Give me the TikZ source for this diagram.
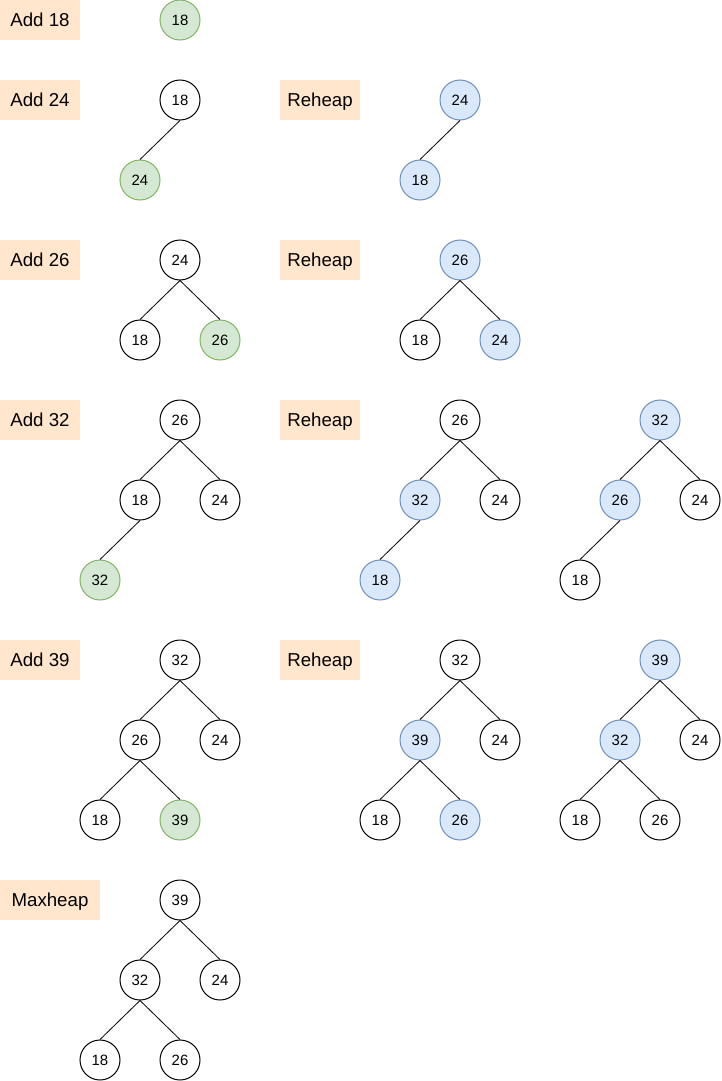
\documentclass[tikz,border=0pt]{standalone}
\usepackage{fontspec}
\setmainfont{Liberation Sans}
\usepackage{tikz}
\definecolor{addfill}{HTML}{D5E8D4}
\definecolor{adddraw}{HTML}{82B366}
\definecolor{swapfill}{HTML}{DAE8FC}
\definecolor{swapdraw}{HTML}{6C8EBF}
\definecolor{tagfill}{HTML}{FFE6CC}
\tikzset{
  key/.style={circle, draw=black, fill=white, line width=0.75pt, minimum size=30pt, inner sep=0pt, text height=8pt, text depth=0pt, font=\fontsize{11.2}{13}\selectfont},
  added/.style={key, draw=adddraw, fill=addfill},
  swapped/.style={key, draw=swapdraw, fill=swapfill},
  tag/.style={rectangle, fill=tagfill, inner sep=0pt, minimum height=30pt, text height=10pt, text depth=0pt, font=\fontsize{14}{16}\selectfont},
  edge/.style={line width=0.6pt}
}
\begin{document}
\begin{tikzpicture}[x=0.75pt, y=-0.75pt]
			%%%%% START %%%%%
			\useasboundingbox (0, 0) rectangle (721, 1081);
			
			% step 1
			\node[tag, minimum width=60pt] (t1) at (40, 20) {Add 18};
			\node[added] (a18) at (180, 20) {18};
			
			% step 2
			\node[tag, minimum width=60pt] (t2) at (40, 100) {Add 24};
			\node[key] (b18) at (180, 100) {18};
			\node[added] (b24) at (140, 180) {24};
			\draw[edge] (b18.south) -- (b24.north);
			
			\node[tag, minimum width=60pt] (r2) at (320, 100) {Reheap};
			\node[swapped] (c24) at (460, 100) {24};
			\node[swapped] (c18) at (420, 180) {18};
			\draw[edge] (c24.south) -- (c18.north);
			
			% step 3
			\node[tag, minimum width=60pt] (t3) at (40, 260) {Add 26};
			\node[key] (d24) at (180, 260) {24};
			\node[key] (d18) at (140, 340) {18};
			\node[added] (d26) at (220, 340) {26};
			\draw[edge] (d24.south) -- (d18.north);
			\draw[edge] (d24.south) -- (d26.north);
			
			\node[tag, minimum width=60pt] (r3) at (320, 260) {Reheap};
			\node[swapped] (e26) at (460, 260) {26};
			\node[key] (e18) at (420, 340) {18};
			\node[swapped] (e24) at (500, 340) {24};
			\draw[edge] (e26.south) -- (e18.north);
			\draw[edge] (e26.south) -- (e24.north);
			
			% step 4
			\node[tag, minimum width=60pt] (t4) at (40, 420) {Add 32};
			\node[key] (f26) at (180, 420) {26};
			\node[key] (f18) at (140, 500) {18};
			\node[key] (f24) at (220, 500) {24};
			\node[added] (f32) at (100, 580) {32};
			\draw[edge] (f26.south) -- (f18.north);
			\draw[edge] (f26.south) -- (f24.north);
			\draw[edge] (f18.south) -- (f32.north);
			
			\node[tag, minimum width=60pt] (r4) at (320, 420) {Reheap};
			\node[key] (g26) at (460, 420) {26};
			\node[swapped] (g32) at (420, 500) {32};
			\node[key] (g24) at (500, 500) {24};
			\node[swapped] (g18) at (380, 580) {18};
			\draw[edge] (g26.south) -- (g32.north);
			\draw[edge] (g26.south) -- (g24.north);
			\draw[edge] (g32.south) -- (g18.north);
			
			\node[swapped] (h32) at (660, 420) {32};
			\node[swapped] (h26) at (620, 500) {26};
			\node[key] (h24) at (700, 500) {24};
			\node[key] (h18) at (580, 580) {18};
			\draw[edge] (h32.south) -- (h26.north);
			\draw[edge] (h32.south) -- (h24.north);
			\draw[edge] (h26.south) -- (h18.north);
			
			% step 5
			\node[tag, minimum width=60pt] (t5) at (40, 660) {Add 39};
			\node[key] (i32) at (180, 660) {32};
			\node[key] (i26) at (140, 740) {26};
			\node[key] (i24) at (220, 740) {24};
			\node[key] (i18) at (100, 820) {18};
			\node[added] (i39) at (180, 820) {39};
			\draw[edge] (i32.south) -- (i26.north);
			\draw[edge] (i32.south) -- (i24.north);
			\draw[edge] (i26.south) -- (i18.north);
			\draw[edge] (i26.south) -- (i39.north);
			
			\node[tag, minimum width=60pt] (r5) at (320, 660) {Reheap};
			\node[key] (j32) at (460, 660) {32};
			\node[swapped] (j39) at (420, 740) {39};
			\node[key] (j24) at (500, 740) {24};
			\node[key] (j18) at (380, 820) {18};
			\node[swapped] (j26) at (460, 820) {26};
			\draw[edge] (j32.south) -- (j39.north);
			\draw[edge] (j32.south) -- (j24.north);
			\draw[edge] (j39.south) -- (j18.north);
			\draw[edge] (j39.south) -- (j26.north);
			
			\node[swapped] (k39) at (660, 660) {39};
			\node[swapped] (k32) at (620, 740) {32};
			\node[key] (k24) at (700, 740) {24};
			\node[key] (k18) at (580, 820) {18};
			\node[key] (k26) at (660, 820) {26};
			\draw[edge] (k39.south) -- (k32.north);
			\draw[edge] (k39.south) -- (k24.north);
			\draw[edge] (k32.south) -- (k18.north);
			\draw[edge] (k32.south) -- (k26.north);
			
			% result
			\node[tag, minimum width=75pt] (t6) at (50, 900) {Maxheap};
			\node[key] (m39) at (180, 900) {39};
			\node[key] (m32) at (140, 980) {32};
			\node[key] (m24) at (220, 980) {24};
			\node[key] (m18) at (100, 1060) {18};
			\node[key] (m26) at (180, 1060) {26};
			\draw[edge] (m39.south) -- (m32.north);
			\draw[edge] (m39.south) -- (m24.north);
			\draw[edge] (m32.south) -- (m18.north);
			\draw[edge] (m32.south) -- (m26.north);
			
			%%%%% END %%%%%
\end{tikzpicture}
\end{document}
